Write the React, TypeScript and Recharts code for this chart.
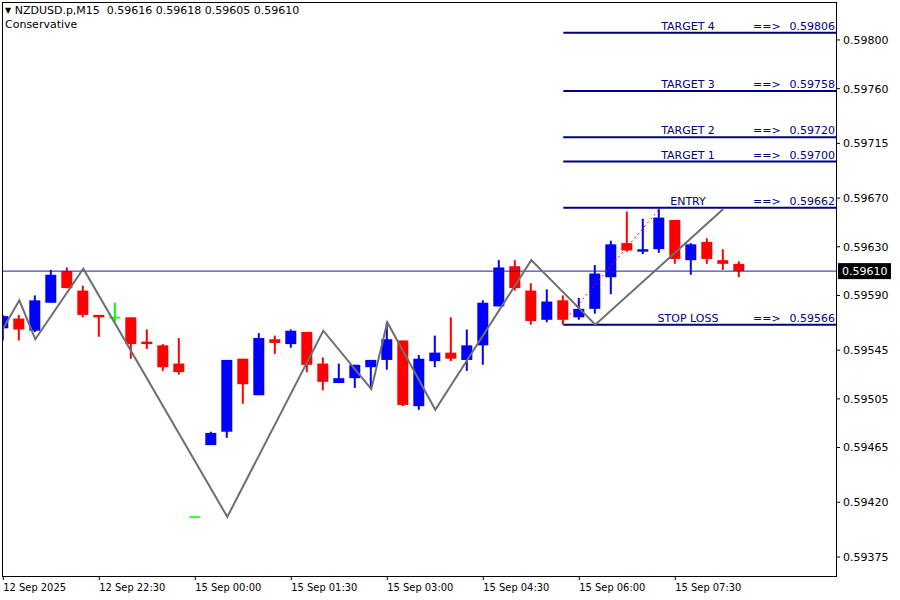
import React from 'react';
import { ComposedChart, Bar, Line, XAxis, YAxis, ReferenceLine, ReferenceDot } from 'recharts';

// M15 candles, bar 0 = 12 Sep 21:00
const opens = [
  0.59563, 0.59571, 0.59561, 0.59584, 0.5961, 0.59594, 0.59574, 0.59572, 0.59572, 0.59552,
  0.59549, 0.59534, 0.59408, 0.59467, 0.59478, 0.59538, 0.59508, 0.59554, 0.5955, 0.5956,
  0.59534, 0.59518, 0.59522, 0.59531, 0.59537, 0.59553, 0.59499, 0.59536, 0.59543, 0.59537,
  0.59549, 0.59581, 0.59614, 0.59594, 0.5957, 0.59586, 0.59572, 0.59579, 0.59605, 0.59633,
  0.59626, 0.59628, 0.59652, 0.59619, 0.59634, 0.59619, 0.59616,
];
const highs = [
  0.59574, 0.59574, 0.5959, 0.59611, 0.59613, 0.59598, 0.59574, 0.59584, 0.59572, 0.59562,
  0.5955, 0.59555, 0.59408, 0.59478, 0.59537, 0.59538, 0.59559, 0.59557, 0.59562, 0.5956,
  0.59539, 0.59534, 0.59533, 0.59537, 0.59568, 0.59553, 0.59541, 0.59557, 0.59572, 0.59562,
  0.59586, 0.59619, 0.59619, 0.596, 0.59595, 0.5959, 0.59588, 0.59615, 0.59635, 0.59659,
  0.59653, 0.59661, 0.59652, 0.59633, 0.59637, 0.59628, 0.59618,
];
const lows = [
  0.59553, 0.59553, 0.5956, 0.59584, 0.59596, 0.59572, 0.59556, 0.59568, 0.59538, 0.59546,
  0.59528, 0.59525, 0.59408, 0.59467, 0.59473, 0.59501, 0.59508, 0.59542, 0.59547, 0.59527,
  0.59512, 0.59518, 0.59514, 0.59513, 0.59529, 0.59499, 0.59496, 0.59531, 0.59536, 0.59528,
  0.59533, 0.59581, 0.59594, 0.59566, 0.59568, 0.59566, 0.5957, 0.59575, 0.59591, 0.59626,
  0.59624, 0.59625, 0.59616, 0.59607, 0.59616, 0.59611, 0.59605,
];
const closes = [
  0.59573, 0.59562, 0.59586, 0.59607, 0.59596, 0.59574, 0.59572, 0.59572, 0.5955, 0.5955,
  0.59531, 0.59527, 0.59408, 0.59477, 0.59537, 0.59517, 0.59555, 0.59551, 0.59561, 0.59533,
  0.59519, 0.59522, 0.59533, 0.59537, 0.59554, 0.595, 0.59538, 0.59543, 0.59538, 0.59549,
  0.59584, 0.59613, 0.59596, 0.59569, 0.59585, 0.5957, 0.59579, 0.59608, 0.59632, 0.59627,
  0.59628, 0.59654, 0.5962, 0.59632, 0.5962, 0.59616, 0.5961,
];

const timeTickBars = [0, 6, 12, 18, 24, 30, 36, 42];
const timeLabels = [
  '12 Sep 2025', '12 Sep 22:30', '15 Sep 00:00', '15 Sep 01:30',
  '15 Sep 03:00', '15 Sep 04:30', '15 Sep 06:00', '15 Sep 07:30',
];

const priceTicks = [0.598, 0.5976, 0.59715, 0.5967, 0.5963, 0.5959, 0.59545, 0.59505, 0.59465, 0.5942, 0.59375];

const zigzagBars = [0, 1, 2, 5, 14, 20, 23, 24, 27, 33, 37, 45];
const zigzagValues = [0.59563, 0.59586, 0.59554, 0.59612, 0.59408, 0.59561, 0.59513, 0.59568, 0.59496, 0.59619, 0.59566, 0.59661];

const tradeBars = [35, 41];
const tradeValues = [0.59568, 0.59661];

const levelNames = ['TARGET 4', 'TARGET 3', 'TARGET 2', 'TARGET 1', 'ENTRY', 'STOP LOSS'];
const levelValues = [0.59806, 0.59758, 0.5972, 0.597, 0.59662, 0.59566];
const levelStartBar = 35;

const bidPrice = 0.5961;

const X_MIN = -0.081;
const X_MAX = 52.044;
const Y_MIN = 0.593594;
const Y_MAX = 0.598312;

const FONT = '"DejaVu Sans", Tahoma, sans-serif';
const NAVY = '#000080';

const data = opens.map((o, i) => {
  const h = highs[i];
  const l = lows[i];
  const zi = zigzagBars.indexOf(i);
  const ti = tradeBars.indexOf(i);
  return {
    i,
    o,
    h,
    l,
    c: closes[i],
    range: h === l ? [l - 0.000002, h + 0.000002] : [l, h],
    zz: zi >= 0 ? zigzagValues[zi] : null,
    trade: ti >= 0 ? tradeValues[ti] : null,
  };
});

const Candle = (props: any) => {
  const { x, y, width, height, payload } = props;
  if (!payload || x == null) return null;
  const { o, c, h, l, range } = payload;
  const [lo, hi] = range;
  const py = (v: number) => y + ((hi - v) / (hi - lo)) * height;
  const cx = x + width / 2;
  const color = o === c ? '#00FF00' : c > o ? '#0000FF' : '#FF0000';
  const top = py(Math.max(o, c));
  const bot = py(Math.min(o, c));
  return (
    <g>
      <rect x={cx - 1} y={py(h)} width={2} height={Math.max(0, py(l) - py(h))} fill={color} />
      {o === c ? (
        <rect x={cx - 5.5} y={top - 0.5} width={11} height={1.5} fill={color} />
      ) : (
        <rect x={cx - 5.5} y={top} width={11} height={Math.max(1, bot - top)} fill={color} />
      )}
    </g>
  );
};

const renderTimeTick = (p: any) => {
  const idx = timeTickBars.indexOf(p.payload.value);
  return (
    <text x={p.x} y={p.y + 9} textAnchor="start" fontSize={11} fontFamily={'"DejaVu Sans Condensed", "Liberation Sans", sans-serif'} fill="#000">
      {timeLabels[idx]}
    </text>
  );
};

const levelLabel = (name: string, value: number) => (p: any) => {
  const { cx, cy } = p;
  if (cx == null || cy == null) return null;
  return (
    <g fontFamily={FONT} fontSize={11} fill={NAVY}>
      <text x={cx - 148} y={cy - 3} textAnchor="middle">{name}</text>
      <text x={cx - 83} y={cy - 3} textAnchor="start">==&gt;</text>
      <text x={cx - 1} y={cy - 3} textAnchor="end">{value.toFixed(5)}</text>
    </g>
  );
};

const bidBox = (p: any) => {
  const { cx, cy } = p;
  if (cx == null || cy == null) return null;
  return (
    <g>
      <rect x={cx + 2} y={cy - 8} width={53} height={16} fill="#000" />
      <text x={cx + 6} y={cy + 4} fontFamily={FONT} fontSize={11} fill="#fff">{bidPrice.toFixed(5)}</text>
    </g>
  );
};

const App = () => {
  return (
    <div style={{ position: 'absolute', left: 0, top: 0, width: 900, height: 600, background: '#fff' }}>
      <ComposedChart width={900} height={600} data={data} margin={{ top: 2, right: 0, bottom: 0, left: 2 }}>
        <XAxis
          type="number"
          dataKey="i"
          domain={[X_MIN, X_MAX]}
          allowDataOverflow
          ticks={timeTickBars}
          interval={0}
          axisLine={false}
          tickSize={4}
          tickLine={{ stroke: '#000' }}
          tick={renderTimeTick}
          height={24}
        />
        <YAxis
          type="number"
          orientation="right"
          domain={[Y_MIN, Y_MAX]}
          allowDataOverflow
          ticks={priceTicks}
          interval={0}
          width={64}
          axisLine={false}
          tickSize={4}
          tickMargin={3}
          tickLine={{ stroke: '#000' }}
          tick={{ fontSize: 11, fill: '#000', fontFamily: FONT }}
          tickFormatter={(v: number) => v.toFixed(5)}
        />
        <Bar dataKey="range" barSize={11} shape={Candle} isAnimationActive={false} />
        <ReferenceLine y={bidPrice} stroke="#1a1ab0" strokeWidth={1} />
        {levelValues.map((v, k) => (
          <ReferenceLine
            key={levelNames[k]}
            segment={[{ x: levelStartBar, y: v }, { x: X_MAX, y: v }]}
            stroke={NAVY}
            strokeWidth={2}
          />
        ))}
        <Line dataKey="zz" type="linear" stroke="#6e6e6e" strokeWidth={2} dot={false} connectNulls isAnimationActive={false} />
        <Line dataKey="trade" type="linear" stroke="#FF0000" strokeWidth={1} strokeDasharray="2 3" dot={false} connectNulls isAnimationActive={false} />
        {levelValues.map((v, k) => (
          <ReferenceDot key={'l' + k} x={X_MAX} y={v} r={0} ifOverflow="visible" shape={levelLabel(levelNames[k], v)} />
        ))}
        <ReferenceDot x={X_MAX} y={bidPrice} r={0} ifOverflow="visible" shape={bidBox} />
      </ComposedChart>
      <div
        style={{
          position: 'absolute',
          left: 2,
          top: 2,
          width: 835,
          height: 575,
          boxSizing: 'border-box',
          border: '1px solid #000',
          pointerEvents: 'none',
        }}
      />
      <div style={{ position: 'absolute', left: 5, top: 4, fontFamily: FONT, fontSize: 11, lineHeight: '14px', color: '#000', whiteSpace: 'pre' }}>
        <div><span style={{ fontSize: 8, verticalAlign: 1 }}>▼</span> NZDUSD.p,M15  0.59616 0.59618 0.59605 0.59610</div>
        <div>Conservative</div>
      </div>
    </div>
  );
};

export default App;
